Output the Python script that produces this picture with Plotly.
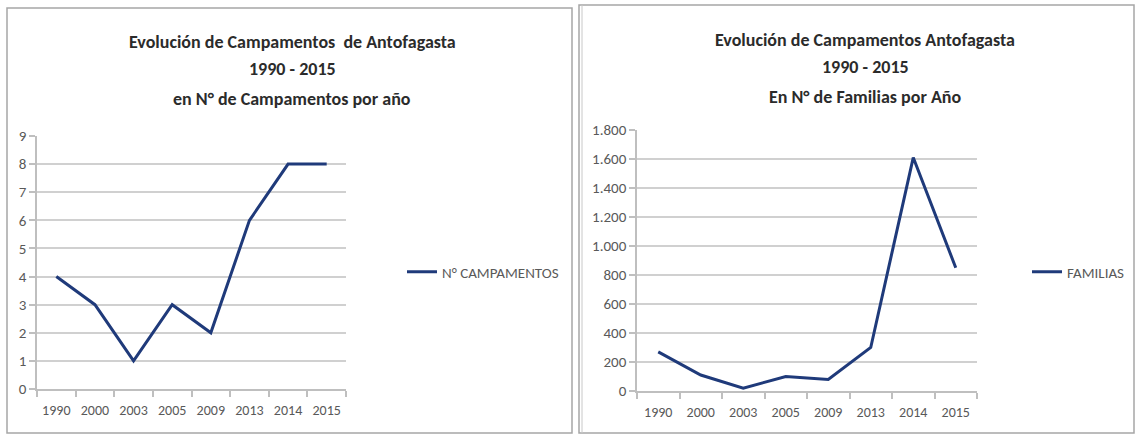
import plotly.graph_objects as go

years = ["1990", "2000", "2003", "2005", "2009", "2013", "2014", "2015"]
campamentos = [4, 3, 1, 3, 2, 6, 8, 8]
familias = [270, 110, 20, 100, 80, 300, 1610, 850]

title_left = ["Evolución de Campamentos  de Antofagasta", "1990 - 2015", "en N° de Campamentos por año"]
title_right = ["Evolución de Campamentos Antofagasta", "1990 - 2015", "En N° de Familias por Año"]

FONT = "Carlito, 'Liberation Sans Narrow', 'Open Sans', sans-serif"
LINE = "#1F3A7A"
W, H = 1136, 436

def px(x):
    return x / W

def py(y):
    return 1 - y / H

fig = go.Figure()
fig.add_trace(go.Scatter(x=years, y=campamentos, mode="lines", name="N° CAMPAMENTOS",
                         line=dict(color=LINE, width=3), xaxis="x", yaxis="y", legend="legend"))
fig.add_trace(go.Scatter(x=years, y=familias, mode="lines", name="FAMILIAS",
                         line=dict(color=LINE, width=3), xaxis="x2", yaxis="y2", legend="legend2"))

xtickfont = dict(family=FONT, size=14, color="#595959")
ytickfont = dict(family=FONT, size=15, color="#595959")
xcommon = dict(type="category", range=[-0.5, 7.5], showgrid=False, showline=True,
               linecolor="#BFBFBF", linewidth=1.5, ticks="outside", tickson="boundaries", ticklen=6,
               tickcolor="#BFBFBF", tickwidth=1.5, tickfont=xtickfont, zeroline=False,
               fixedrange=True, ticklabelstandoff=7, automargin=False, tickangle=0)
ycommon = dict(showgrid=True, gridcolor="#D0D0D0", gridwidth=1.5, showline=True,
               linecolor="#BFBFBF", linewidth=1.5, ticks="outside", ticklen=6, tickcolor="#BFBFBF",
               tickwidth=1.5, tickfont=ytickfont, zeroline=False, fixedrange=True, automargin=False)

fig.update_layout(
    width=W, height=H, margin=dict(l=0, r=0, t=0, b=0, autoexpand=False),
    paper_bgcolor="white", plot_bgcolor="white",
    separators=",.",
    font=dict(family=FONT, color="#404040"),
    xaxis=dict(domain=[px(37), px(346)], anchor="y", **xcommon),
    yaxis=dict(domain=[py(389), py(136)], anchor="x", range=[0, 9], dtick=1, **ycommon),
    xaxis2=dict(domain=[px(637), px(977)], anchor="y2", **xcommon),
    yaxis2=dict(domain=[py(391), py(130)], anchor="x2", range=[0, 1800], dtick=200,
                tickformat=",d", **ycommon),
    legend=dict(x=px(402), y=py(272), xanchor="left", yanchor="middle",
                font=dict(family=FONT, size=15, color="#595959"), bgcolor="rgba(0,0,0,0)",
                itemwidth=30, tracegroupgap=0),
    legend2=dict(x=px(1027), y=py(272), xanchor="left", yanchor="middle",
                 font=dict(family=FONT, size=15, color="#595959"), bgcolor="rgba(0,0,0,0)",
                 itemwidth=30, tracegroupgap=0),
    showlegend=True,
)

for lines, cx, ys in ((title_left, 292, (42, 69, 99)), (title_right, 865, (40, 67, 97))):
    for txt, yy in zip(lines, ys):
        fig.add_annotation(text="<b>" + txt + "</b>", x=px(cx), y=py(yy), xref="paper", yref="paper",
                           xanchor="center", yanchor="middle", showarrow=False,
                           font=dict(family=FONT, size=18, color="#2B2B2B"))

fig.add_shape(type="rect", xref="paper", yref="paper", x0=px(7), x1=px(572), y0=py(433), y1=py(8),
              line=dict(color="#A6A6A6", width=1.5))
fig.add_shape(type="rect", xref="paper", yref="paper", x0=px(579), x1=px(1134), y0=py(433), y1=py(5),
              line=dict(color="#A6A6A6", width=1.5))
fig.add_shape(type="line", xref="paper", yref="paper", x0=px(582), x1=px(582), y0=py(433), y1=py(5),
              line=dict(color="#C8C8C8", width=1))

fig.write_html("out.html", config={"displayModeBar": False},
               post_script="document.body.style.margin='0';document.body.style.overflow='hidden';")
